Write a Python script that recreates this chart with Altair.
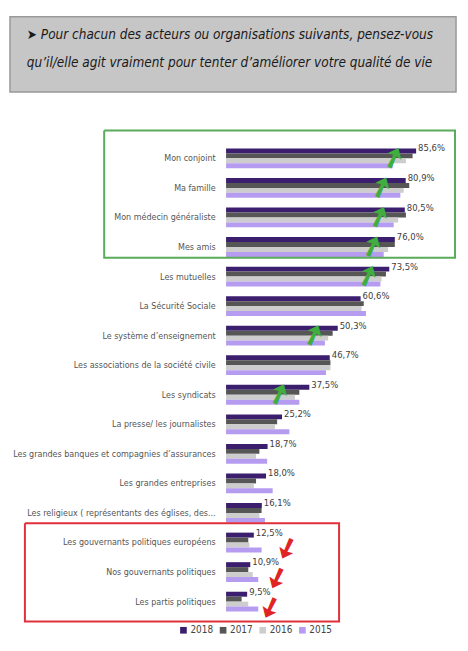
import altair as alt
import pandas as pd

categories = [
    "Mon conjoint",
    "Ma famille",
    "Mon médecin généraliste",
    "Mes amis",
    "Les mutuelles",
    "La Sécurité Sociale",
    "Le système d’enseignement",
    "Les associations de la société civile",
    "Les syndicats",
    "La presse/ les journalistes",
    "Les grandes banques et compagnies d’assurances",
    "Les grandes entreprises",
    "Les religieux ( représentants des églises, des...",
    "Les gouvernants politiques européens",
    "Nos gouvernants politiques",
    "Les partis politiques",
]
years = ["2018", "2017", "2016", "2015"]
v2018 = [85.6, 80.9, 80.5, 76.0, 73.5, 60.6, 50.3, 46.7, 37.5, 25.2, 18.7, 18.0, 16.1, 12.5, 10.9, 9.5]
v2017 = [84.0, 82.5, 81.0, 76.0, 72.0, 62.0, 48.0, 47.0, 33.0, 23.0, 15.0, 13.5, 16.0, 10.0, 10.0, 7.0]
v2016 = [81.0, 80.0, 77.5, 73.0, 70.0, 61.0, 46.0, 47.0, 31.0, 22.0, 13.5, 12.5, 15.0, 10.5, 12.0, 10.0]
v2015 = [75.0, 78.5, 75.5, 71.0, 69.5, 63.0, 44.5, 45.0, 33.0, 28.5, 18.5, 21.0, 17.5, 16.0, 14.5, 14.5]
colors = ["#3b1f6e", "#565656", "#cdcdcd", "#b69cf0"]

title_lines = [
    "➤ Pour chacun des acteurs ou organisations suivants, pensez-vous",
    "qu’il/elle agit vraiment pour tenter d’améliorer votre qualité de vie",
]

# annotation boxes, in row units (0 = top of first row) and % units
green_box = {"top": -0.44, "bottom": 3.86, "left": -54.9, "right": 103.1}
red_box = {"top": 12.85, "bottom": 16.17, "left": -90.6, "right": 50.9}

# arrows
up_cats = ["Mon conjoint", "Ma famille", "Mon médecin généraliste", "Mes amis",
           "Les mutuelles", "Le système d’enseignement", "Les syndicats"]
up_x = [75.5, 70.0, 69.0, 66.0, 64.0, 39.5, 24.0]
down_cats = ["Les gouvernants politiques européens", "Nos gouvernants politiques", "Les partis politiques"]
down_x = [26.5, 22.0, 19.0]

FONT = "DejaVu Sans Condensed, DejaVu Sans, sans-serif"

series = [v2018, v2017, v2016, v2015]
rows = []
for i, c in enumerate(categories):
    for y, vals in zip(years, series):
        rows.append({"cat": c, "year": y, "value": vals[i]})
df = pd.DataFrame(rows)

lab_df = pd.DataFrame({
    "cat": categories,
    "value": v2018,
    "label": [f"{v:.1f}".replace(".", ",") + "%" for v in v2018],
})

n = len(categories)
yscale = alt.Scale(domain=categories, paddingInner=0.33, paddingOuter=0.165)
yq_scale = alt.Scale(domain=[0, n], reverse=True, nice=False, zero=False)
xscale = alt.Scale(domain=[0, 100])
yoff_scale = alt.Scale(domain=years, paddingInner=0, paddingOuter=0)

bars = alt.Chart(df).mark_bar().encode(
    x=alt.X("value:Q", scale=xscale, axis=None),
    y=alt.Y("cat:N", scale=yscale,
            axis=alt.Axis(title=None, domain=False, ticks=False, labelPadding=11,
                          labelFontSize=9, labelColor="#555555", labelFont=FONT,
                          labelLimit=400)),
    yOffset=alt.YOffset("year:N", scale=yoff_scale),
    color=alt.Color("year:N", scale=alt.Scale(domain=years, range=colors),
                    legend=alt.Legend(title=None, orient="none", legendX=-48, legendY=614,
                                      direction="horizontal", columns=4,
                                      symbolType="square", symbolSize=45, labelFontSize=10,
                                      labelFont=FONT, labelColor="#444444", columnPadding=5,
                                      labelOffset=2, symbolStrokeWidth=0)),
)

labels = alt.Chart(lab_df).mark_text(
    align="left", baseline="middle", dx=2, dy=-10, font=FONT, fontSize=9.5, color="#404040"
).encode(
    x=alt.X("value:Q", scale=xscale),
    y=alt.Y("cat:N", scale=yscale, axis=None),
    text="label:N",
)


def outline(b):
    xs = [b["left"], b["right"], b["right"], b["left"], b["left"]]
    ys = [b["top"], b["top"], b["bottom"], b["bottom"], b["top"]]
    return pd.DataFrame({"bx": xs, "by": ys, "o": list(range(5))})


def box_layer(b, col):
    return alt.Chart(outline(b)).mark_line(color=col, strokeWidth=2).encode(
        x=alt.X("bx:Q", scale=xscale),
        y=alt.Y("by:Q", scale=yq_scale, axis=None),
        order="o:Q",
    )


up_df = pd.DataFrame({"cat": up_cats, "x": up_x, "s": ["➚"] * len(up_cats)})
down_df = pd.DataFrame({"cat": down_cats, "x": down_x, "s": ["➚"] * len(down_cats)})

up_arrows = alt.Chart(up_df).mark_text(
    font="DejaVu Sans", fontSize=27, color="#3fae3f", stroke="#3fae3f", strokeWidth=1.5,
    angle=340, baseline="middle", align="center"
).encode(
    x=alt.X("x:Q", scale=xscale), y=alt.Y("cat:N", scale=yscale, axis=None), text="s:N"
)
down_arrows = alt.Chart(down_df).mark_text(
    font="DejaVu Sans", fontSize=27, color="#e02424", stroke="#e02424", strokeWidth=1.5,
    angle=160, baseline="middle", align="center", dy=-6
).encode(
    x=alt.X("x:Q", scale=xscale), y=alt.Y("cat:N", scale=yscale, axis=None), text="s:N"
)

main = alt.layer(
    bars, up_arrows, down_arrows, labels,
    box_layer(green_box, "#5aac5a"), box_layer(red_box, "#e0303a"),
).resolve_scale(y="independent").properties(width=224, height=477)

banner_df = pd.DataFrame({"t": ["\n".join(title_lines)]})
banner_rect = alt.Chart(banner_df).mark_rect(
    fill="#c6c6c6", stroke="#999999", strokeWidth=1.5
).encode(
    x=alt.value(-218), x2=alt.value(232), y=alt.value(0), y2=alt.value(76)
)
banner_text = alt.Chart(banner_df).mark_text(
    align="left", baseline="top", lineBreak="\n", lineHeight=29, font=FONT,
    fontSize=13.6, fontStyle="italic", color="#1a1a1a"
).encode(
    text="t:N", x=alt.value(-201), y=alt.value(11)
)
banner = alt.layer(banner_rect, banner_text).properties(width=232, height=76)

chart = alt.vconcat(banner, main, spacing=32).properties(
    padding={"left": 0, "top": 4, "right": 0, "bottom": 0}
).configure_view(stroke="transparent")

chart.save("out.html", embed_options={"renderer": "svg", "actions": False})
